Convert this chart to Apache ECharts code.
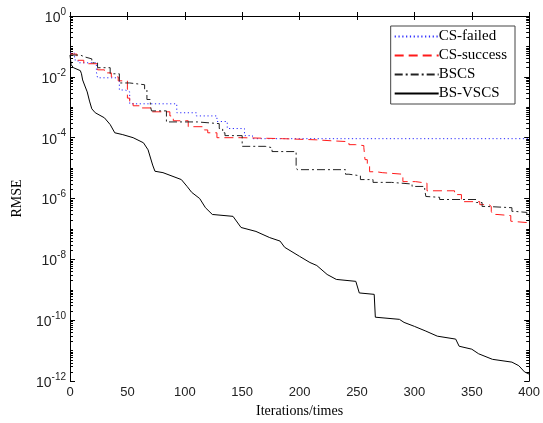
<!DOCTYPE html>
<html>
<head>
<meta charset="utf-8">
<script src="https://cdn.jsdelivr.net/npm/echarts@6/dist/echarts.min.js"></script>
<style>
html, body { margin: 0; padding: 0; background: #fff; }
#chart { width: 543px; height: 423px; }
</style>
</head>
<body>
<div id="chart"></div>
<script>
// RMSE, staircase points [iteration, value]
var failedIter = [0, 4, 7, 23, 24, 43, 48, 52, 93, 110, 128, 137, 152, 159, 400];
var failedVal = [6.0e-2, 3.6e-2, 2.9e-2, 1.45e-2, 9.3e-3, 3.7e-3, 3.2e-3, 1.3e-3, 6.6e-4, 5.2e-4, 3.4e-4, 2.0e-4, 1.17e-4, 9.3e-5, 9.3e-5];

var successIter = [0, 6, 12, 24, 30, 36, 42, 50, 52, 55, 61, 71, 87, 90, 103, 117, 120, 128, 150, 185, 215, 228, 243, 249, 256, 257, 259, 261, 267, 272, 290, 301, 311, 335, 341, 357, 365, 367, 368, 372, 384, 385, 400];
var successVal = [5.6e-2, 3.5e-2, 2.7e-2, 1.7e-2, 1.35e-2, 1.0e-2, 7.4e-3, 2.0e-3, 1.4e-3, 1.12e-3, 9.5e-4, 7.1e-4, 5.2e-4, 3.6e-4, 2.3e-4, 1.8e-4, 1.45e-4, 1.0e-4, 9.3e-5, 8.5e-5, 7.9e-5, 7.4e-5, 5.9e-5, 5.5e-5, 4.7e-5, 1.9e-5, 1.26e-5, 7.6e-6, 7.1e-6, 6.3e-6, 3.6e-6, 3.2e-6, 1.8e-6, 1.35e-6, 7.9e-7, 6.3e-7, 5.5e-7, 3.8e-7, 3.0e-7, 2.75e-7, 1.8e-7, 1.6e-7, 1.6e-7];

var bscsIter = [0, 9, 13, 19, 24, 35, 43, 52, 65, 67, 70, 71, 84, 111, 130, 133, 135, 150, 170, 176, 197, 198, 240, 243, 253, 264, 280, 298, 309, 310, 311, 322, 354, 359, 363, 385, 387, 398, 400];
var bscsVal = [5.2e-2, 4.5e-2, 3.9e-2, 2.9e-2, 2.0e-2, 1.26e-2, 6.3e-3, 5.5e-3, 4.0e-3, 1.8e-3, 1.12e-3, 7.6e-4, 3.3e-4, 2.9e-4, 2.0e-4, 1.45e-4, 1.17e-4, 5.2e-5, 4.7e-5, 3.5e-5, 1.05e-5, 8.9e-6, 6.3e-6, 5.6e-6, 4.2e-6, 3.4e-6, 3.0e-6, 2.5e-6, 2.0e-6, 1.17e-6, 1.1e-6, 9.3e-7, 7.4e-7, 5.5e-7, 5.0e-7, 3.8e-7, 3.5e-7, 2.6e-7, 2.6e-7];

var vscsIter = [0, 1, 3, 9, 10, 11, 13, 15, 17, 19, 22, 30, 35, 39, 46, 55, 64, 68, 72, 74, 81, 97, 102, 106, 113, 118, 124, 142, 149, 162, 174, 183, 187, 200, 209, 215, 224, 232, 249, 252, 265, 266, 287, 291, 300, 310, 320, 336, 339, 350, 356, 368, 385, 391, 396, 400];
var vscsVal = [5.2e-2, 2.5e-2, 2.0e-2, 1.6e-2, 1.26e-2, 7.9e-3, 5.0e-3, 3.2e-3, 1.6e-3, 8.9e-4, 6.6e-4, 4.5e-4, 2.7e-4, 1.45e-4, 1.26e-4, 1.0e-4, 6.8e-5, 4.0e-5, 1.26e-5, 7.9e-6, 7.1e-6, 4.2e-6, 2.5e-6, 1.6e-6, 1.0e-6, 5.0e-7, 3.0e-7, 2.6e-7, 1.12e-7, 8.3e-8, 5.2e-8, 4.0e-8, 2.5e-8, 1.26e-8, 7.9e-9, 6.3e-9, 3.2e-9, 2.2e-9, 1.9e-9, 7.9e-10, 7.1e-10, 1.26e-10, 1.07e-10, 8.5e-11, 6.3e-11, 4.4e-11, 3.0e-11, 2.4e-11, 1.4e-11, 1.12e-11, 7.9e-12, 5.2e-12, 4.2e-12, 3.2e-12, 2.0e-12, 1.7e-12];

var seriesNames = ['CS-failed', 'CS-success', 'BSCS', 'BS-VSCS'];
var yMin = 1e-12, yMax = 1;
var expMin = -12, expMax = 0, expStep = 2;
var xMin = 0, xMax = 400, xStep = 50;

function pairs(xs, ys) {
    var out = [];
    for (var i = 0; i < xs.length; i++) out.push([xs[i], ys[i]]);
    return out;
}

// matlab style minor ticks at log10(m x 10^k), on a plain exponent axis
var minorTicks = [];
for (var k = expMin; k < expMax; k++) {
    for (var m = 1; m < 10; m++) minorTicks.push(k + Math.log(m) / Math.LN10);
}
minorTicks.push(expMax);

var serif = '"Liberation Serif", "Times New Roman", serif';
var sans = '"Liberation Sans", Arial, sans-serif';

function expLabel(v) {
    return '{b|10}{s|' + v + '}';
}

var axisLineStyle = { lineStyle: { color: '#000', width: 1 } };

var chart = echarts.init(document.getElementById('chart'));
chart.setOption({
    animation: false,
    backgroundColor: '#fff',
    grid: { left: 70, right: 13, top: 16, bottom: 41 },
    legend: {
        orient: 'vertical', right: 28, top: 26,
        data: seriesNames,
        itemWidth: 44, itemHeight: 10, itemGap: 4,
        padding: [3, 8, 3, 3],
        borderColor: '#444', borderWidth: 1, backgroundColor: '#fff',
        itemStyle: { opacity: 0 },
        textStyle: { fontFamily: serif, fontSize: 15, color: '#000', padding: [0, 0, 0, -5] }
    },
    xAxis: [{
        type: 'value', min: xMin, max: xMax, interval: xStep, position: 'bottom',
        name: 'Iterations/times', nameLocation: 'middle', nameGap: 19,
        nameTextStyle: { fontFamily: serif, fontSize: 14, color: '#000' },
        axisLine: axisLineStyle,
        axisTick: { inside: true, length: 4, lineStyle: { color: '#000' } },
        axisLabel: { fontFamily: sans, fontSize: 13, color: '#222', margin: 5 },
        splitLine: { show: false }
    }, {
        type: 'value', min: xMin, max: xMax, interval: xStep, position: 'top',
        axisLine: axisLineStyle,
        axisTick: { inside: true, length: 4, lineStyle: { color: '#000' } },
        axisLabel: { show: false }, splitLine: { show: false }
    }],
    yAxis: [{
        type: 'log', logBase: 10, min: yMin, max: yMax, position: 'left',
        name: 'RMSE', nameLocation: 'middle', nameGap: 46,
        nameTextStyle: { fontFamily: serif, fontSize: 14, color: '#000' },
        axisLine: axisLineStyle,
        axisTick: { show: false },
        axisLabel: { show: false },
        splitLine: { show: false }
    }, {
        // exponent axis carrying labels and major ticks on the left
        type: 'value', min: expMin, max: expMax, interval: expStep, position: 'left',
        axisLine: { show: false },
        axisTick: { inside: true, length: 5, lineStyle: { color: '#000' } },
        axisLabel: {
            margin: 4, formatter: expLabel,
            rich: {
                b: { fontFamily: sans, fontSize: 14, color: '#222', verticalAlign: 'bottom' },
                s: { fontFamily: sans, fontSize: 10, color: '#222', verticalAlign: 'bottom', padding: [0, 0, 8, 0] }
            }
        },
        splitLine: { show: false }
    }, {
        type: 'value', min: expMin, max: expMax, interval: expStep, position: 'right',
        axisLine: axisLineStyle,
        axisTick: { inside: true, length: 5, lineStyle: { color: '#000' } },
        axisLabel: { show: false }, splitLine: { show: false }
    }, {
        type: 'value', min: expMin, max: expMax, position: 'left',
        axisLine: { show: false },
        axisTick: { inside: true, length: 3, customValues: minorTicks, lineStyle: { color: '#000' } },
        axisLabel: { show: false }, splitLine: { show: false }
    }, {
        type: 'value', min: expMin, max: expMax, position: 'right',
        axisLine: { show: false },
        axisTick: { inside: true, length: 3, customValues: minorTicks, lineStyle: { color: '#000' } },
        axisLabel: { show: false }, splitLine: { show: false }
    }],
    series: [{
        name: seriesNames[0], type: 'line', step: 'end', symbol: 'none',
        data: pairs(failedIter, failedVal),
        itemStyle: { color: '#2a2aff' },
        lineStyle: { color: '#2a2aff', width: 1, type: [1.2, 2.6] }
    }, {
        name: seriesNames[1], type: 'line', step: 'end', symbol: 'none',
        data: pairs(successIter, successVal),
        itemStyle: { color: '#ff1a1a' },
        lineStyle: { color: '#ff1a1a', width: 1, type: [9, 5] }
    }, {
        name: seriesNames[2], type: 'line', step: 'end', symbol: 'none',
        data: pairs(bscsIter, bscsVal),
        itemStyle: { color: '#222' },
        lineStyle: { color: '#222', width: 1, type: [8, 3, 2, 3] }
    }, {
        name: seriesNames[3], type: 'line', symbol: 'none',
        data: pairs(vscsIter, vscsVal),
        itemStyle: { color: '#000' },
        lineStyle: { color: '#000', width: 1 }
    }]
});
</script>
</body>
</html>
